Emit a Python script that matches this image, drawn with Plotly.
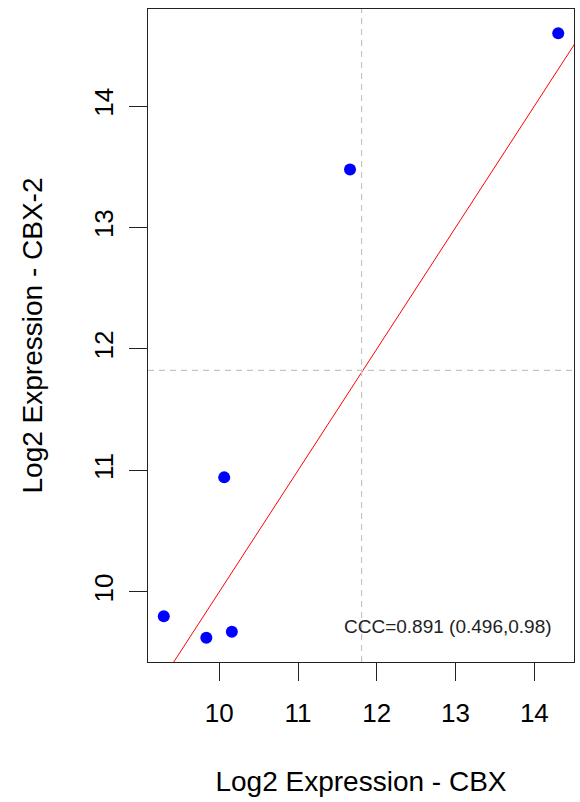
import plotly.graph_objects as go

# Log2 expression values for the six samples
cbx = [9.296, 9.836, 10.160, 10.063, 11.660, 14.303]
cbx2 = [9.800, 9.622, 9.672, 10.943, 13.478, 14.600]

# Reference lines: identity line and the dashed cut-offs
identity_x = [8.0, 16.0]
cut_x = 11.807
cut_y = 11.824

ccc_label = "CCC=0.891 (0.496,0.98)"
tick_vals = [10, 11, 12, 13, 14]
tick_text = ["10", "11", "12", "13", "14"]

# R-style 4% padding around the data
def padded(vals):
    lo, hi = min(vals), max(vals)
    d = hi - lo
    return [lo - 0.04 * d, hi + 0.04 * d]

FONT = "Liberation Sans, Arial, sans-serif"

fig = go.Figure()

fig.add_trace(go.Scatter(
    x=identity_x, y=identity_x, mode="lines",
    line=dict(color="red", width=1), hoverinfo="skip", showlegend=False,
))

fig.add_trace(go.Scatter(
    x=cbx, y=cbx2, mode="markers",
    marker=dict(color="#0000FF", size=12, line=dict(width=0)),
    showlegend=False, cliponaxis=False,
))

fig.add_vline(x=cut_x, line=dict(color="#C4C4C4", width=1.2, dash="6px,5px"))
fig.add_hline(y=cut_y, line=dict(color="#C4C4C4", width=1.2, dash="6px,5px"))

fig.add_annotation(
    x=12.91, y=9.718, xref="x", yref="y", text=ccc_label, showarrow=False,
    font=dict(family=FONT, size=19, color="#222222"),
)

axis_common = dict(
    showgrid=False, zeroline=False, showline=True, mirror=True,
    linecolor="#222222", linewidth=1.2,
    ticks="outside", ticklen=18, tickwidth=1.2, tickcolor="#222222",
    tickvals=tick_vals, ticktext=tick_text,
    tickfont=dict(family=FONT, size=26, color="black"),
)

fig.update_xaxes(
    range=padded(cbx), ticklabelstandoff=10, **axis_common,
    title=dict(text="Log2 Expression - CBX", font=dict(family=FONT, size=28, color="black"), standoff=44),
)
fig.update_yaxes(
    range=padded(cbx2), tickangle=-90, ticklabelstandoff=6, **axis_common,
    title=dict(text="Log2 Expression - CBX-2", font=dict(family=FONT, size=28, color="black"), standoff=37),
)

fig.update_layout(
    width=580, height=802,
    margin=dict(l=148, r=6, t=9, b=140, autoexpand=False),
    paper_bgcolor="white", plot_bgcolor="white",
)

fig.write_html("out.html")
